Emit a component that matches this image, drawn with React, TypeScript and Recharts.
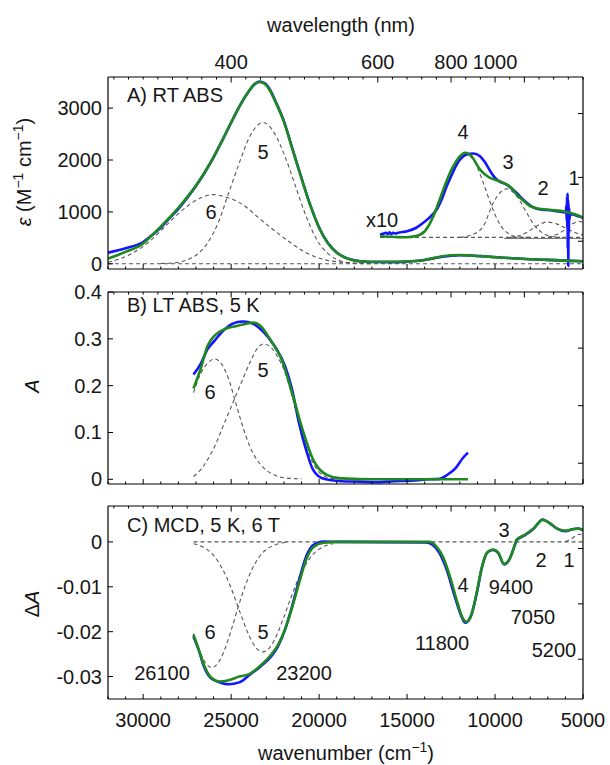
import React from "react";
import { LineChart, Line, XAxis, YAxis } from "recharts";

type P = [number, number];

const W = 610;
const H = 765;
const PLOT_LEFT = 108;
const PLOT_RIGHT = 583;
const FONT = '"Liberation Sans", Arial, Helvetica, sans-serif';
const FS = 20;
const BLUE = "#1414ff";
const GREEN = "#1e8a1e";
const GRAY = "#585858";
const TXT = "#161616";

// ---------- axis tick labels ----------
const X_DOMAIN: [number, number] = [5000, 32000];
const BOTTOM_LABELS = [30000, 25000, 20000, 15000, 10000, 5000];
const TOP_LABELS_NM = [400, 600, 800, 1000];
const TOP_MAJOR_NM = [400, 600, 800, 1000, 1200];
const TOP_MINOR_STEP = 1e7 / 12000;
const bottomTicks = Array.from({ length: 28 }, (_, i) => 32000 - i * 1000);
const topTicks = Array.from({ length: 33 }, (_, i) => 5000 + i * TOP_MINOR_STEP);

const A_TICKS = [0, 1000, 2000, 3000];
const B_TICKS = [0, 0.1, 0.2, 0.3, 0.4];
const C_TICKS = [0, -0.01, -0.02, -0.03];

// ---------- Panel A: RT ABS (epsilon) ----------
const rtBlue: P[] = [
  [32000, 215], [31000, 300], [30000, 420], [29500, 550], [29000, 700], [28500, 880], [28000, 1060],
  [27500, 1270], [27000, 1500], [26500, 1760], [26000, 2050], [25500, 2380], [25000, 2720], [24500, 3050],
  [24000, 3320], [23700, 3450], [23400, 3510], [23100, 3480], [22800, 3360], [22500, 3150], [22000, 2750],
  [21500, 2200], [21000, 1650], [20500, 1130], [20000, 700], [19500, 400], [19000, 220], [18500, 120],
  [18000, 70], [17500, 45], [17000, 35], [16000, 32], [15000, 42], [14500, 55], [14000, 75], [13500, 105],
  [13000, 135], [12500, 155], [12000, 165], [11500, 163], [11000, 152], [10500, 140], [10000, 127],
  [9500, 118], [9000, 107], [8000, 88], [7000, 75], [6000, 62], [5000, 48],
];
const rtGreen: P[] = [
  [32000, 100], [31000, 230], [30000, 390], [29500, 550], [29000, 715], [28500, 895], [28000, 1080],
  [27500, 1285], [27000, 1510], [26500, 1765], [26000, 2055], [25500, 2385], [25000, 2725], [24500, 3055],
  [24000, 3325], [23700, 3455], [23400, 3505], [23100, 3470], [22800, 3345], [22500, 3135], [22000, 2735],
  [21500, 2190], [21000, 1645], [20500, 1125], [20000, 695], [19500, 395], [19000, 215], [18500, 115],
  [18000, 65], [17500, 45], [17000, 40], [16000, 40], [15000, 45], [14500, 55], [14000, 75], [13500, 110],
  [13000, 145], [12500, 165], [12000, 170], [11500, 162], [11000, 150], [10500, 140], [10000, 128],
  [9500, 118], [9000, 107], [8000, 88], [7000, 75], [6000, 62], [5000, 48],
];
const rtBlueX10: P[] = [
  [16540, 565], [16350, 580], [16200, 600], [16100, 575], [16000, 605], [15900, 570], [15800, 600],
  [15650, 585], [15500, 600], [15000, 629], [14500, 690], [14078, 790], [13700, 900], [13318, 1046],
  [13000, 1270], [12749, 1495], [12450, 1720], [12181, 1913], [11900, 2040], [11612, 2106], [11233, 2125],
  [10854, 2073], [10600, 1970], [10380, 1850], [10150, 1720], [9906, 1624], [9650, 1570], [9338, 1528],
  [9050, 1450], [8769, 1368], [8500, 1270], [8201, 1175], [7900, 1100], [7632, 1060], [7250, 1040],
  [6877, 1033], [6500, 1015], [6119, 994], [5980, 990], [5950, 1120], [5930, 840], [5910, 1290],
  [5895, 700], [5880, 1350], [5865, 300], [5850, 1230], [5835, -40], [5820, 1150], [5805, 600],
  [5790, 1080], [5770, 850], [5740, 980], [5700, 960], [5551, 950], [5250, 915], [5000, 886],
];
const rtGreenX10: P[] = [
  [16539, 532], [16000, 522], [15500, 515], [15022, 513], [14500, 535], [14078, 597], [13700, 780],
  [13318, 1080], [12950, 1420], [12560, 1753], [12200, 1980], [11992, 2073], [11708, 2139], [11500, 2120],
  [11329, 2073], [11100, 1950], [10854, 1817], [10550, 1715], [10286, 1657], [9900, 1610], [9528, 1561],
  [9100, 1470], [8769, 1335], [8400, 1220], [8012, 1110], [7500, 1060], [7064, 1046], [6600, 1030],
  [6119, 1014], [5500, 960], [5000, 890],
];
const aBase0: P[] = [[32000, 0], [5000, 0]];
const aBaseX10: P[] = [[16540, 510], [5000, 510]];
const aBaseSolid: P[] = [[9500, 487], [5000, 487]];
const aBand6: P[] = [
  [32000, 30], [30740, 180], [29740, 404], [28740, 724], [27740, 1045], [26740, 1269], [26040, 1333],
  [25140, 1269], [24340, 1141], [23540, 917], [22740, 692], [21740, 436], [20740, 212], [19740, 83],
  [18740, 32], [17500, 5],
];
const aBand5: P[] = [
  [29000, 5], [28000, 30], [27740, 51], [26940, 180], [26340, 404], [25740, 788], [25140, 1365],
  [24540, 1942], [23940, 2455], [23180, 2724], [22540, 2519], [21940, 2070], [21340, 1494], [20740, 917],
  [20140, 468], [19540, 212], [18740, 51], [18000, 10], [17000, 2],
];
const aBand4: P[] = [
  [15000, 515], [14500, 540], [14100, 620], [13700, 780], [13300, 1036], [12900, 1368], [12500, 1723],
  [12100, 2003], [11700, 2110], [11233, 2010], [10668, 1560], [10195, 1110], [9718, 757], [9150, 565],
  [8600, 515], [8000, 510],
];
const aBand3: P[] = [
  [12000, 510], [11300, 560], [10668, 725], [10100, 1175], [9718, 1368], [9338, 1445], [8769, 1303],
  [8201, 983], [7731, 725], [7263, 590], [6800, 525], [6300, 510],
];
const aBand2: P[] = [
  [9150, 510], [8600, 545], [8100, 625], [7600, 735], [7050, 805], [6500, 770], [6000, 690], [5500, 610],
  [5000, 550],
];
const aBand1: P[] = [
  [7000, 512], [6500, 565], [6000, 665], [5600, 770], [5200, 815], [5000, 805],
];

// ---------- Panel B: LT ABS, 5 K ----------
const ltBlue: P[] = [
  [27140, 0.224], [26740, 0.246], [26340, 0.278], [25940, 0.296], [25540, 0.314], [24940, 0.332],
  [24340, 0.337], [23740, 0.332], [23140, 0.314], [22540, 0.285], [21940, 0.242], [21540, 0.192],
  [21140, 0.12], [20740, 0.063], [20340, 0.02], [19740, 0.001], [18740, -0.004], [17740, -0.005],
  [16740, -0.006], [15740, -0.004], [14740, -0.003], [13740, 0], [13140, 0.001], [12740, 0.009],
  [12240, 0.024], [11840, 0.045], [11540, 0.057],
];
const ltGreen: P[] = [
  [27140, 0.194], [26740, 0.235], [26340, 0.285], [25940, 0.307], [25340, 0.321], [24740, 0.327],
  [24140, 0.332], [23740, 0.335], [23340, 0.328], [22740, 0.296], [22140, 0.257], [21540, 0.185],
  [20940, 0.106], [20340, 0.042], [19540, 0.009], [18740, 0.002], [16740, 0], [11540, 0],
];
const bBand6: P[] = [
  [27140, 0.185], [26740, 0.225], [26340, 0.248], [25940, 0.257], [25540, 0.246], [25140, 0.214],
  [24740, 0.163], [24340, 0.113], [23940, 0.07], [23540, 0.042], [23140, 0.024], [22540, 0.009],
  [21940, 0.003], [21000, 0.001],
];
const bBand5: P[] = [
  [27140, 0.006], [26740, 0.02], [26340, 0.042], [25940, 0.07], [25540, 0.106], [25140, 0.142],
  [24740, 0.178], [24340, 0.214], [23940, 0.249], [23540, 0.278], [23160, 0.289], [22740, 0.282],
  [22340, 0.26], [21940, 0.228], [21540, 0.178], [21140, 0.12], [20740, 0.07], [20340, 0.034],
  [19940, 0.013], [19540, 0.004], [19000, 0.001], [18000, 0.001],
];

// ---------- Panel C: MCD, 5 K, 6 T ----------
const mcdBlue: P[] = [
  [27140, -0.0211], [26840, -0.0241], [26540, -0.0278], [26140, -0.0304], [25640, -0.0313],
  [25140, -0.0317], [24540, -0.0313], [23940, -0.0296], [23340, -0.0278], [22740, -0.0256],
  [22340, -0.0233], [21940, -0.0196], [21540, -0.0144], [21140, -0.0085], [20740, -0.0033],
  [20340, -0.0007], [19740, 0.0001], [18740, 0], [13940, -0.0001], [13540, -0.0007], [13140, -0.0026],
  [12740, -0.0063], [12340, -0.0115], [11940, -0.0163], [11700, -0.018], [11400, -0.0168],
  [11040, -0.0115], [10740, -0.0056], [10440, -0.0024], [10117, -0.0018], [9800, -0.0026],
  [9491, -0.005], [9200, -0.004], [8900, -0.001], [8770, 0.0004], [8300, 0.0015], [7800, 0.003],
  [7293, 0.005], [6900, 0.0042], [6500, 0.003], [6024, 0.0024], [5600, 0.0028], [5270, 0.003],
  [5000, 0.0026],
];
const mcdGreen: P[] = [
  [27140, -0.0207], [26840, -0.024], [26540, -0.0275], [26140, -0.0302], [25640, -0.0311],
  [25140, -0.0308], [24540, -0.03], [23940, -0.0294], [23340, -0.0276], [22740, -0.0252],
  [22340, -0.023], [21940, -0.0195], [21540, -0.0147], [21140, -0.0092], [20740, -0.004],
  [20340, -0.0012], [19740, -0.0002], [18740, 0], [13740, 0], [13340, -0.001], [12940, -0.0035],
  [12540, -0.008], [12140, -0.0135], [11840, -0.017], [11640, -0.0178], [11340, -0.0162],
  [11040, -0.0112], [10740, -0.0055], [10440, -0.0023], [10117, -0.0017], [9800, -0.0025],
  [9491, -0.0049], [9200, -0.004], [8900, -0.001], [8770, 0.0005], [8300, 0.0016], [7800, 0.003],
  [7293, 0.0049], [6900, 0.0042], [6500, 0.003], [6024, 0.0025], [5600, 0.0028], [5270, 0.003],
  [5000, 0.0027],
];
const cBase0: P[] = [[27140, 0], [5000, 0]];
const cBand6: P[] = [
  [27140, -0.0204], [26800, -0.0243], [26500, -0.0267], [26100, -0.028], [25700, -0.0267],
  [25400, -0.0243], [25000, -0.0197], [24600, -0.0145], [24200, -0.0098], [23800, -0.006],
  [23400, -0.0033], [23000, -0.0017], [22600, -0.0008], [22200, -0.0003], [21800, -0.0001],
];
const cBand5: P[] = [
  [27140, -0.0004], [26800, -0.0008], [26400, -0.0016], [26000, -0.003], [25600, -0.0053],
  [25200, -0.0084], [24800, -0.0124], [24400, -0.0167], [24000, -0.0207], [23600, -0.0235],
  [23200, -0.0245], [22800, -0.0235], [22400, -0.0207], [22000, -0.0167], [21600, -0.0124],
  [21200, -0.0084], [20800, -0.0053], [20400, -0.003], [20000, -0.0016], [19600, -0.0008],
  [19200, -0.0004],
];
const cBand1: P[] = [[6000, 0.0001], [5700, 0.0006], [5400, 0.0014], [5200, 0.0017], [5000, 0.0016]];

// ---------- helpers ----------
const pts = (a: P[]) => a.map(([x, y]) => ({ x, y }));
const AXIS_LINE = { stroke: "#000", strokeWidth: 1.2 };

const near = (a: number, b: number) => Math.abs(a - b) < 1;

const mkBottomTick = (labels: boolean) => (p: any) => {
  const v = p.payload.value;
  const major = BOTTOM_LABELS.some((b) => near(b, v)) || near(v, 30000);
  return (
    <g>
      <line x1={p.x} x2={p.x} y1={p.y} y2={p.y - (major ? 5 : 2.5)} stroke="#000" strokeWidth={1} />
      {labels && major ? (
        <text x={p.x} y={p.y + 28} textAnchor="middle" fontSize={FS} fontFamily={FONT} fill={TXT}>
          {v}
        </text>
      ) : null}
    </g>
  );
};

const mkTopTick = (labels: boolean) => (p: any) => {
  const v = p.payload.value;
  const major = TOP_MAJOR_NM.some((nm) => near(1e7 / nm, v));
  const lab = TOP_LABELS_NM.find((nm) => near(1e7 / nm, v));
  return (
    <g>
      <line x1={p.x} x2={p.x} y1={p.y} y2={p.y + (major ? 5.5 : 2.5)} stroke="#000" strokeWidth={1} />
      {labels && lab !== undefined ? (
        <text x={p.x} y={p.y - 8.5} textAnchor="middle" fontSize={FS} fontFamily={FONT} fill={TXT}>
          {lab}
        </text>
      ) : null}
    </g>
  );
};

const mkLeftTick = (fmt: (v: number) => string) => (p: any) => (
  <g>
    <line x1={p.x} x2={p.x + 5} y1={p.y} y2={p.y} stroke="#000" strokeWidth={1} />
    <text x={p.x - 6} y={p.y} dy="0.35em" textAnchor="end" fontSize={FS} fontFamily={FONT} fill={TXT}>
      {fmt(p.payload.value)}
    </text>
  </g>
);

const RightTick = (p: any) => (
  <g>
    <line x1={p.x} x2={p.x - 5} y1={p.y} y2={p.y} stroke="#000" strokeWidth={1} />
  </g>
);

function curve(key: string, data: P[], color: string, width: number, dashed = false) {
  return (
    <Line
      key={key}
      xAxisId="bot"
      yAxisId="l"
      data={pts(data)}
      dataKey="y"
      type="monotone"
      stroke={color}
      strokeWidth={width}
      strokeDasharray={dashed ? "4 3" : undefined}
      dot={false}
      activeDot={false}
      isAnimationActive={false}
      connectNulls
    />
  );
}

type PanelProps = {
  plotTop: number;
  plotBottom: number;
  yDomain: [number, number];
  yTicks: number[];
  yFmt: (v: number) => string;
  rDomain: [number, number];
  rTicks: number[];
  topLabels: boolean;
  bottomLabels: boolean;
  children: React.ReactNode;
};

function Panel(props: PanelProps) {
  const { plotTop, plotBottom } = props;
  return (
    <div style={{ position: "absolute", left: 0, top: 0, width: W, height: H }}>
      <LineChart
        width={W}
        height={H}
        margin={{ top: plotTop - 1, bottom: H - plotBottom - 1, left: PLOT_LEFT - 1, right: W - PLOT_RIGHT - 1 }}
      >
        <XAxis
          xAxisId="bot"
          type="number"
          dataKey="x"
          domain={X_DOMAIN}
          reversed
          allowDataOverflow
          ticks={bottomTicks}
          interval={0}
          height={1}
          tickSize={0}
          tickMargin={0}
          tick={mkBottomTick(props.bottomLabels)}
          axisLine={AXIS_LINE}
          tickLine={false}
        />
        <XAxis
          xAxisId="top"
          orientation="top"
          type="number"
          dataKey="x"
          domain={X_DOMAIN}
          reversed
          allowDataOverflow
          ticks={topTicks}
          interval={0}
          height={1}
          tickSize={0}
          tickMargin={0}
          tick={mkTopTick(props.topLabels)}
          axisLine={AXIS_LINE}
          tickLine={false}
        />
        <YAxis
          yAxisId="l"
          type="number"
          domain={props.yDomain}
          allowDataOverflow
          ticks={props.yTicks}
          interval={0}
          width={1}
          tickSize={0}
          tickMargin={0}
          tick={mkLeftTick(props.yFmt)}
          axisLine={AXIS_LINE}
          tickLine={false}
        />
        <YAxis
          yAxisId="r"
          orientation="right"
          type="number"
          domain={props.rDomain}
          allowDataOverflow
          ticks={props.rTicks}
          interval={0}
          width={1}
          tickSize={0}
          tickMargin={0}
          tick={RightTick}
          axisLine={AXIS_LINE}
          tickLine={false}
        />
        {props.children}
      </LineChart>
    </div>
  );
}

const Txt = (p: { x: number; y: number; anchor?: "start" | "middle" | "end"; children: React.ReactNode }) => (
  <text x={p.x} y={p.y} dy="0.35em" textAnchor={p.anchor || "middle"} fontSize={FS} fontFamily={FONT} fill={TXT}>
    {p.children}
  </text>
);

export default function App() {
  const DW = 1.1;
  const LW = 2.6;
  return (
    <div style={{ position: "absolute", left: 0, top: 0, width: W, height: H, background: "#fff" }}>
      <Panel
        plotTop={77}
        plotBottom={269}
        yDomain={[-100, 3600]}
        yTicks={A_TICKS}
        yFmt={(v) => String(v)}
        rDomain={[-0.435, 2.573]}
        rTicks={[0, 1, 2]}
        topLabels={true}
        bottomLabels={false}
      >
        {curve("a0", aBase0, GRAY, DW, true)}
        {curve("a10", aBaseX10, GRAY, DW, true)}
        {curve("as", aBaseSolid, "#777", 1, false)}
        {curve("a6", aBand6, GRAY, DW, true)}
        {curve("a5", aBand5, GRAY, DW, true)}
        {curve("a4", aBand4, GRAY, DW, true)}
        {curve("a3", aBand3, GRAY, DW, true)}
        {curve("a2", aBand2, GRAY, DW, true)}
        {curve("a1", aBand1, GRAY, DW, true)}
        {curve("ab", rtBlue, BLUE, LW)}
        {curve("abx", rtBlueX10, BLUE, LW)}
        {curve("ag", rtGreen, GREEN, LW)}
        {curve("agx", rtGreenX10, GREEN, LW)}
      </Panel>
      <Panel
        plotTop={292}
        plotBottom={484}
        yDomain={[-0.01, 0.4]}
        yTicks={B_TICKS}
        yFmt={(v) => String(v)}
        rDomain={[-0.361, 2.975]}
        rTicks={[0, 1, 2]}
        topLabels={false}
        bottomLabels={false}
      >
        {curve("b6", bBand6, GRAY, DW, true)}
        {curve("b5", bBand5, GRAY, DW, true)}
        {curve("bb", ltBlue, BLUE, LW)}
        {curve("bg", ltGreen, GREEN, LW)}
      </Panel>
      <Panel
        plotTop={506}
        plotBottom={699}
        yDomain={[-0.035, 0.008]}
        yTicks={C_TICKS}
        yFmt={(v) => String(v)}
        rDomain={[-2.719, 0.768]}
        rTicks={[0, -1, -2]}
        topLabels={false}
        bottomLabels={true}
      >
        {curve("c0", cBase0, GRAY, DW, true)}
        {curve("c6", cBand6, GRAY, DW, true)}
        {curve("c5", cBand5, GRAY, DW, true)}
        {curve("c1", cBand1, GRAY, DW, true)}
        {curve("cb", mcdBlue, BLUE, LW)}
        {curve("cg", mcdGreen, GREEN, LW)}
      </Panel>
      <svg
        width={W}
        height={H}
        style={{ position: "absolute", left: 0, top: 0, pointerEvents: "none" }}
      >
        <Txt x={341} y={25}>wavelength (nm)</Txt>
        <text x={346} y={753} dy="0.35em" textAnchor="middle" fontSize={FS} fontFamily={FONT} fill={TXT}>
          <tspan>wavenumber (cm</tspan>
          <tspan dy={-8} fontSize={14}>−1</tspan>
          <tspan dy={8}>)</tspan>
        </text>
        <text transform="translate(24,172) rotate(-90)" dy="0.35em" textAnchor="middle" fontSize={FS} fontFamily={FONT} fill={TXT}>
          <tspan fontStyle="italic">ε</tspan>
          <tspan> (M</tspan>
          <tspan dy={-8} fontSize={14}>−1</tspan>
          <tspan dy={8}> cm</tspan>
          <tspan dy={-8} fontSize={14}>−1</tspan>
          <tspan dy={8}>)</tspan>
        </text>
        <text transform="translate(32,386) rotate(-90)" dy="0.35em" textAnchor="middle" fontSize={FS} fontFamily={FONT} fill={TXT} fontStyle="italic">
          A
        </text>
        <text transform="translate(32,604) rotate(-90)" dy="0.35em" textAnchor="middle" fontSize={FS} fontFamily={FONT} fill={TXT}>
          <tspan>Δ</tspan>
          <tspan fontStyle="italic">A</tspan>
        </text>

        <Txt x={127} y={95} anchor="start">A) RT ABS</Txt>
        <Txt x={263} y={152}>5</Txt>
        <Txt x={211} y={212}>6</Txt>
        <Txt x={382} y={220}>x10</Txt>
        <Txt x={463} y={132}>4</Txt>
        <Txt x={508} y={162}>3</Txt>
        <Txt x={543} y={188}>2</Txt>
        <Txt x={574} y={178}>1</Txt>

        <Txt x={127} y={305} anchor="start">B) LT ABS, 5 K</Txt>
        <Txt x={210} y={392}>6</Txt>
        <Txt x={263} y={370}>5</Txt>

        <Txt x={127} y={525} anchor="start">C) MCD, 5 K, 6 T</Txt>
        <Txt x={210} y={632}>6</Txt>
        <Txt x={263} y={632}>5</Txt>
        <Txt x={162} y={673}>26100</Txt>
        <Txt x={304} y={673}>23200</Txt>
        <Txt x={463} y={585}>4</Txt>
        <Txt x={442} y={643}>11800</Txt>
        <Txt x={511} y={587}>9400</Txt>
        <Txt x={533} y={617}>7050</Txt>
        <Txt x={554} y={650}>5200</Txt>
        <Txt x={504} y={530}>3</Txt>
        <Txt x={541} y={560}>2</Txt>
        <Txt x={569} y={560}>1</Txt>
      </svg>
    </div>
  );
}
